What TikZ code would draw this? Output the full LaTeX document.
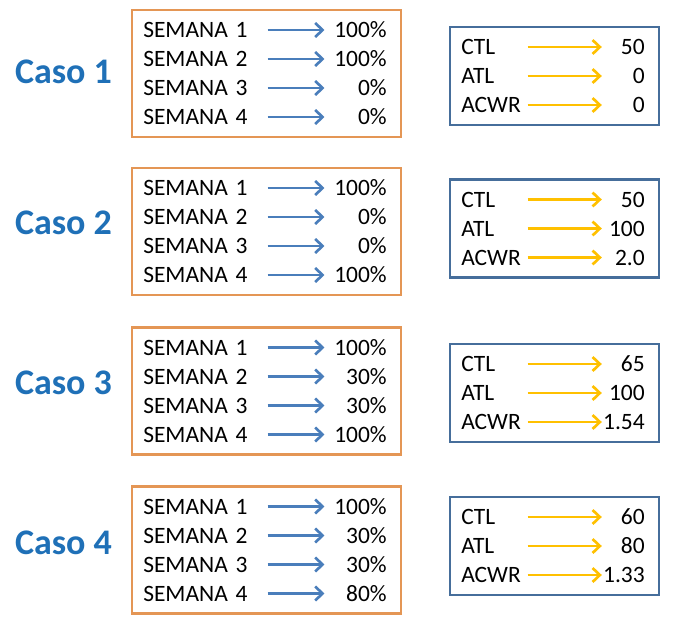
\documentclass[tikz,border=0pt]{standalone}
\usepackage{fontspec}
\setmainfont{Carlito}
\usepackage{tikz}
\usetikzlibrary{arrows.meta}

\definecolor{casoblue}{RGB}{31,112,183}
\definecolor{boxorange}{RGB}{228,150,85}
\definecolor{boxblue}{RGB}{70,110,155}
\definecolor{arrblue}{RGB}{74,126,187}
\definecolor{arryellow}{RGB}{255,192,0}

\tikzset{
    caso/.style={text=casoblue,font=\fontsize{27}{32}\selectfont\bfseries},
    obox/.style={draw=boxorange,line width=2.2pt,minimum width=201.75pt,minimum height=95.25pt},
    bbox/.style={draw=boxblue,line width=2.1pt,minimum width=156.75pt,minimum height=73.5pt},
    row/.style={inner sep=0pt,text height=11.3pt,text depth=0pt,font=\fontsize{17.6}{21}\selectfont},
    wk/.style={row,anchor=west,text width=93pt,align=left},
    pct/.style={row,anchor=east,text width=46.5pt,align=right},
    met/.style={row,anchor=west,text width=49.5pt,align=left},
    val/.style={row,anchor=east,text width=32pt,align=right},
    warrow/.style={draw=arrblue,line width=2pt,-{Straight Barb[length=5.5pt,width=10.5pt]}},
    marrow/.style={draw=arryellow,line width=2pt,-{Straight Barb[length=5.5pt,width=10.5pt]}}
}

\begin{document}
\begin{tikzpicture}[x=0.75pt,y=-0.75pt]
        \useasboundingbox (0,0) rectangle (675,618);

        % caso 1
        \node[caso] (caso1) at (63.5,72) {Caso 1};
        \node[obox] (o1) at (266.5,73.5) {};
        \node[wk] (s11) at (143,30) {SEMANA 1};
        \node[pct] (p11) at (387,30) {100\%};
        \node[wk] (s12) at (143,59) {SEMANA 2};
        \node[pct] (p12) at (387,59) {100\%};
        \node[wk] (s13) at (143,88) {SEMANA 3};
        \node[pct] (p13) at (387,88) {0\%};
        \node[wk] (s14) at (143,117) {SEMANA 4};
        \node[pct] (p14) at (387,117) {0\%};
        \draw[warrow] (s11) -- (p11);
        \draw[warrow] (s12) -- (p12);
        \draw[warrow] (s13) -- (p13);
        \draw[warrow] (s14) -- (p14);
        \node[bbox] (b1) at (554.5,76) {};
        \node[met] (m11) at (461,47) {CTL};
        \node[val] (v11) at (645,47) {50};
        \node[met] (m12) at (461,76) {ATL};
        \node[val] (v12) at (645,76) {0};
        \node[met] (m13) at (461,105) {ACWR};
        \node[val] (v13) at (645,105) {0};
        \draw[marrow] (m11) -- (v11);
        \draw[marrow] (m12) -- (v12);
        \draw[marrow] (m13) -- (v13);

        % caso 2
        \node[caso] (caso2) at (63.5,223) {Caso 2};
        \node[obox] (o2) at (266.5,231.5) {};
        \node[wk] (s21) at (143,188) {SEMANA 1};
        \node[pct] (p21) at (387,188) {100\%};
        \node[wk] (s22) at (143,217) {SEMANA 2};
        \node[pct] (p22) at (387,217) {0\%};
        \node[wk] (s23) at (143,246) {SEMANA 3};
        \node[pct] (p23) at (387,246) {0\%};
        \node[wk] (s24) at (143,275) {SEMANA 4};
        \node[pct] (p24) at (387,275) {100\%};
        \draw[warrow] (s21) -- (p21);
        \draw[warrow] (s22) -- (p22);
        \draw[warrow] (s23) -- (p23);
        \draw[warrow] (s24) -- (p24);
        \node[bbox] (b2) at (554.5,228.5) {};
        \node[met] (m21) at (461,199.5) {CTL};
        \node[val] (v21) at (645,199.5) {50};
        \node[met] (m22) at (461,228.5) {ATL};
        \node[val] (v22) at (645,228.5) {100};
        \node[met] (m23) at (461,257.5) {ACWR};
        \node[val] (v23) at (645,257.5) {2.0};
        \draw[marrow] (m21) -- (v21);
        \draw[marrow] (m22) -- (v22);
        \draw[marrow] (m23) -- (v23);

        % caso 3
        \node[caso] (caso3) at (63.5,383) {Caso 3};
        \node[obox] (o3) at (266.5,391) {};
        \node[wk] (s31) at (143,347.5) {SEMANA 1};
        \node[pct] (p31) at (387,347.5) {100\%};
        \node[wk] (s32) at (143,376.5) {SEMANA 2};
        \node[pct] (p32) at (387,376.5) {30\%};
        \node[wk] (s33) at (143,405.5) {SEMANA 3};
        \node[pct] (p33) at (387,405.5) {30\%};
        \node[wk] (s34) at (143,434.5) {SEMANA 4};
        \node[pct] (p34) at (387,434.5) {100\%};
        \draw[warrow] (s31) -- (p31);
        \draw[warrow] (s32) -- (p32);
        \draw[warrow] (s33) -- (p33);
        \draw[warrow] (s34) -- (p34);
        \node[bbox] (b3) at (554.5,393) {};
        \node[met] (m31) at (461,364) {CTL};
        \node[val] (v31) at (645,364) {65};
        \node[met] (m32) at (461,393) {ATL};
        \node[val] (v32) at (645,393) {100};
        \node[met] (m33) at (461,422) {ACWR};
        \node[val] (v33) at (645,422) {1.54};
        \draw[marrow] (m31) -- (v31);
        \draw[marrow] (m32) -- (v32);
        \draw[marrow] (m33) -- (v33);

        % caso 4
        \node[caso] (caso4) at (63.5,543) {Caso 4};
        \node[obox] (o4) at (266.5,550) {};
        \node[wk] (s41) at (143,506.5) {SEMANA 1};
        \node[pct] (p41) at (387,506.5) {100\%};
        \node[wk] (s42) at (143,535.5) {SEMANA 2};
        \node[pct] (p42) at (387,535.5) {30\%};
        \node[wk] (s43) at (143,564.5) {SEMANA 3};
        \node[pct] (p43) at (387,564.5) {30\%};
        \node[wk] (s44) at (143,593.5) {SEMANA 4};
        \node[pct] (p44) at (387,593.5) {80\%};
        \draw[warrow] (s41) -- (p41);
        \draw[warrow] (s42) -- (p42);
        \draw[warrow] (s43) -- (p43);
        \draw[warrow] (s44) -- (p44);
        \node[bbox] (b4) at (554.5,546) {};
        \node[met] (m41) at (461,517) {CTL};
        \node[val] (v41) at (645,517) {60};
        \node[met] (m42) at (461,546) {ATL};
        \node[val] (v42) at (645,546) {80};
        \node[met] (m43) at (461,575) {ACWR};
        \node[val] (v43) at (645,575) {1.33};
        \draw[marrow] (m41) -- (v41);
        \draw[marrow] (m42) -- (v42);
        \draw[marrow] (m43) -- (v43);
    \end{tikzpicture}
\end{document}
